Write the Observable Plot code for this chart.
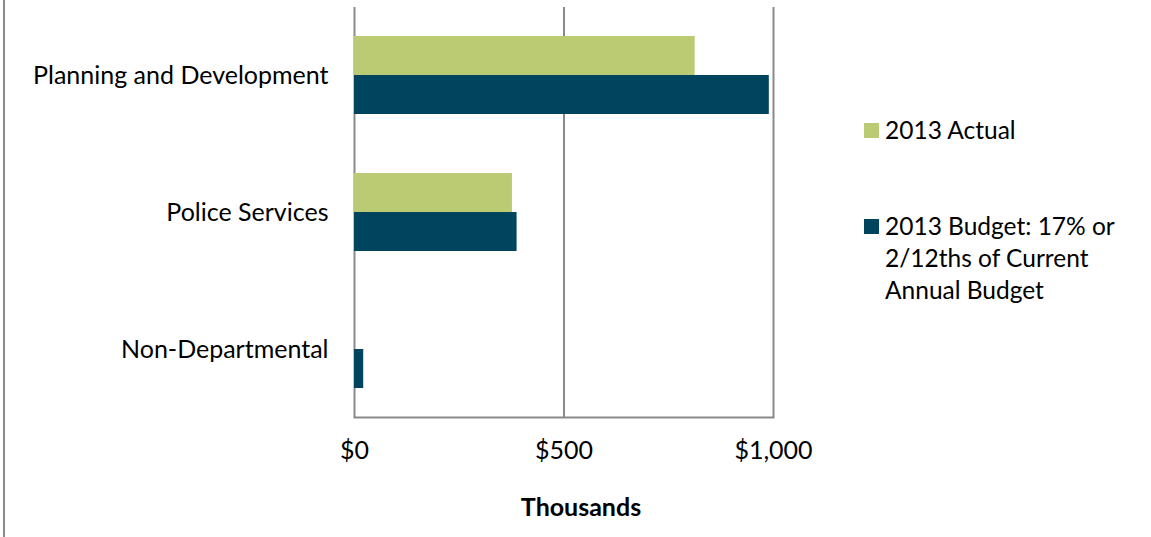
<!DOCTYPE html>
<html>
<head>
<meta charset="utf-8">
<script src="https://cdn.jsdelivr.net/npm/d3@7"></script>
<script src="https://cdn.jsdelivr.net/npm/@observablehq/plot@0.6"></script>
<style>
  html, body { margin: 0; padding: 0; background: #fff; }
  #wrap { position: relative; width: 1151px; height: 537px; overflow: hidden; font-family: Lato, "Open Sans", sans-serif; }
  #wrap svg { position: absolute; left: 0; top: 0; }
  #border { position: absolute; left: 3px; top: 0; width: 2px; height: 537px; background: #8a8a8a; }
  #legend { position: absolute; left: 864px; top: 114px; display: flex; flex-direction: column; gap: 64px; font-size: 24.5px; line-height: 32px; color: #000; }
  .item { display: flex; align-items: flex-start; }
  .sw { width: 15px; height: 15px; margin-top: 8.5px; margin-right: 6px; flex: none; }
  .lab { width: 240px; }
</style>
</head>
<body>
<div id="wrap"><div id="border"></div></div>
<script>
const categories = ["Planning and Development", "Police Services", "Non-Departmental"];
const series = ["2013 Actual", "2013 Budget: 17% or 2/12ths of Current Annual Budget"];
const actual = [813, 377, 0];
const budget = [990, 388, 22];
const colors = ["#BBCB73", "#01445E"];
const xTicks = [0, 500, 1000];
const axisTitle = "Thousands";

const rows = [];
categories.forEach((c, i) => {
  rows.push({category: c, series: series[0], value: actual[i]});
  rows.push({category: c, series: series[1], value: budget[i]});
});

const half = 39;
const chart = Plot.plot({
  width: 1151,
  height: 537,
  marginLeft: 354,
  marginRight: 378,
  marginTop: 7,
  marginBottom: 120,
  style: {fontFamily: "Lato, 'Open Sans', sans-serif", fontSize: "25px", color: "#000", background: "transparent"},
  x: {domain: [0, 1000]},
  y: {domain: categories, paddingInner: 0.43, paddingOuter: 0.21},
  color: {domain: series, range: colors},
  marks: [
    Plot.ruleX(xTicks, {stroke: "#8a8a8a", strokeWidth: 2}),
    Plot.frame({anchor: "bottom", stroke: "#8a8a8a", strokeWidth: 2}),
    Plot.barX(rows.filter(d => d.series === series[0]), {y: "category", x: "value", fill: "series", insetBottom: half}),
    Plot.barX(rows.filter(d => d.series === series[1]), {y: "category", x: "value", fill: "series", insetTop: half}),
    Plot.axisX({ticks: xTicks, tickSize: 0, tickPadding: 24, tickFormat: d => "$" + d3.format(",")(d), label: null}),
    Plot.axisY({tickSize: 0, tickPadding: 26, label: null}),
    Plot.text([axisTitle], {frameAnchor: "bottom", dx: 17, dy: 90, fontWeight: "bold", lineAnchor: "middle"})
  ]
});
const wrap = document.getElementById("wrap");
wrap.appendChild(chart);

const legend = document.createElement("div");
legend.id = "legend";
series.forEach((s, i) => {
  const it = document.createElement("div");
  it.className = "item";
  const sw = document.createElement("div");
  sw.className = "sw";
  sw.style.background = colors[i];
  const lab = document.createElement("div");
  lab.className = "lab";
  lab.textContent = s;
  it.appendChild(sw); it.appendChild(lab);
  legend.appendChild(it);
});
wrap.appendChild(legend);
</script>
</body>
</html>
